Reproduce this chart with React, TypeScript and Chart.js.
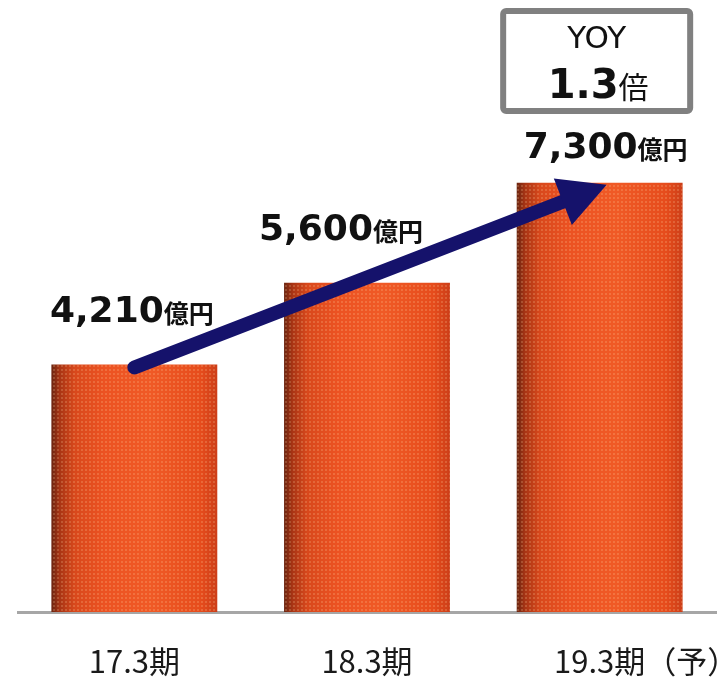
import React, { useEffect, useRef } from "react";
import { Chart, registerables } from "chart.js";

Chart.register(...registerables);

const categories = ["17.3期", "18.3期", "19.3期"];
const categorySuffix = ["", "", "（予）"];
const sales = [4210, 5600, 7300];
const valueLabels = ["4,210", "5,600", "7,300"];
const unitLabel = "億円";
const yoyTitle = "YOY";
const yoyValue = "1.3";
const yoyUnit = "倍";

const BAR_PCT = 0.713;
const NUM_FONT = '"DejaVu Sans", Verdana, sans-serif';
const JP_FONT = '"Noto Sans CJK JP", "Noto Sans", sans-serif';

function barGradient(ctx: CanvasRenderingContext2D, left: number, right: number) {
  const g = ctx.createLinearGradient(left, 0, right, 0);
  g.addColorStop(0, "#6a2410");
  g.addColorStop(0.05, "#a83414");
  g.addColorStop(0.14, "#d8481c");
  g.addColorStop(0.32, "#ec5222");
  g.addColorStop(0.6, "#f05a26");
  g.addColorStop(0.9, "#e64c1c");
  g.addColorStop(1, "#cc3e18");
  return g;
}

let dotPattern: CanvasPattern | null = null;
function getPattern(ctx: CanvasRenderingContext2D) {
  if (dotPattern) return dotPattern;
  const c = document.createElement("canvas");
  c.width = 4;
  c.height = 4;
  const p = c.getContext("2d")!;
  p.fillStyle = "rgba(255,210,160,0.22)";
  p.fillRect(1, 1, 2, 2);
  dotPattern = ctx.createPattern(c, "repeat");
  return dotPattern;
}

const decorPlugin = {
  id: "decor",
  afterDatasetsDraw(chart: any) {
    const ctx: CanvasRenderingContext2D = chart.ctx;
    const meta = chart.getDatasetMeta(0);
    const x = chart.scales.x;
    const y = chart.scales.y;

    // halftone texture on bars
    const pat = getPattern(ctx);
    meta.data.forEach((el: any) => {
      ctx.save();
      ctx.fillStyle = pat as any;
      ctx.fillRect(el.x - el.width / 2, el.y, el.width, el.base - el.y);
      ctx.restore();
    });

    // value labels
    const dx = [-2.5, -26, 6];
    const rise = [42, 43, 25];
    meta.data.forEach((el: any, i: number) => {
      ctx.save();
      ctx.font = `bold 36px ${NUM_FONT}`;
      const wn = ctx.measureText(valueLabels[i]).width;
      ctx.font = `bold 25px ${JP_FONT}`;
      const wu = ctx.measureText(unitLabel).width;
      const start = el.x + dx[i] - (wn + wu) / 2;
      const base = el.y - rise[i];
      ctx.fillStyle = "#111111";
      ctx.textBaseline = "alphabetic";
      ctx.textAlign = "left";
      ctx.font = `bold 36px ${NUM_FONT}`;
      ctx.fillText(valueLabels[i], start, base);
      ctx.font = `bold 25px ${JP_FONT}`;
      ctx.fillText(unitLabel, start + wn, base + 1);
      ctx.restore();
    });

    // arrow
    const sx = x.getPixelForValue(0);
    const sy = y.getPixelForValue(sales[0]) + 3;
    const tx = x.getPixelForValue(2) + 7;
    const ty = y.getPixelForValue(sales[2]) + 2;
    const ang = Math.atan2(ty - sy, tx - sx);
    const ux = Math.cos(ang);
    const uy = Math.sin(ang);
    const headLen = 47;
    const headHalf = 25;
    const bx = tx - ux * headLen;
    const by = ty - uy * headLen;
    ctx.save();
    ctx.strokeStyle = "#15126b";
    ctx.fillStyle = "#15126b";
    ctx.lineWidth = 14;
    ctx.lineCap = "round";
    ctx.beginPath();
    ctx.moveTo(sx, sy);
    ctx.lineTo(bx + ux * 4, by + uy * 4);
    ctx.stroke();
    ctx.beginPath();
    ctx.moveTo(tx, ty);
    ctx.lineTo(bx - uy * headHalf, by + ux * headHalf);
    ctx.lineTo(bx + uy * headHalf, by - ux * headHalf);
    ctx.closePath();
    ctx.fill();
    ctx.restore();

    // YOY box
    const cx = x.getPixelForValue(2) - 3;
    ctx.save();
    ctx.strokeStyle = "#808080";
    ctx.lineWidth = 6;
    ctx.beginPath();
    (ctx as any).roundRect(cx - 93.5, 11, 187, 100, 3);
    ctx.stroke();
    ctx.fillStyle = "#111111";
    ctx.textAlign = "center";
    ctx.textBaseline = "alphabetic";
    ctx.font = `31px ${NUM_FONT}`;
    ctx.fillText(yoyTitle, cx, 48);
    ctx.font = `bold 40px ${NUM_FONT}`;
    const w1 = ctx.measureText(yoyValue).width;
    ctx.font = `30px ${JP_FONT}`;
    const w2 = ctx.measureText(yoyUnit).width;
    const s = cx + 1.5 - (w1 + w2) / 2;
    ctx.textAlign = "left";
    ctx.font = `bold 40px ${NUM_FONT}`;
    ctx.fillText(yoyValue, s, 98);
    ctx.font = `30px ${JP_FONT}`;
    ctx.fillText(yoyUnit, s + w1, 98);
    ctx.restore();
  },
  afterDraw(chart: any) {
    // suffix after tick labels
    const ctx: CanvasRenderingContext2D = chart.ctx;
    const scale = chart.scales.x;
    const items = scale.getLabelItems();
    items.forEach((it: any, i: number) => {
      const suf = categorySuffix[i];
      if (!suf) return;
      ctx.save();
      ctx.font = it.font.string;
      const w = ctx.measureText(String(it.label)).width;
      ctx.translate(it.options.translation[0], it.options.translation[1]);
      ctx.textAlign = "left";
      ctx.textBaseline = it.options.textBaseline;
      ctx.fillStyle = it.options.color;
      ctx.fillText(suf, w / 2, it.textOffset);
      ctx.restore();
    });
  },
};

export default function App() {
  const ref = useRef<HTMLCanvasElement | null>(null);
  useEffect(() => {
    document.body.style.margin = "0";
    const canvas = ref.current!;
    const chart = new Chart(canvas, {
      type: "bar",
      data: {
        labels: categories,
        datasets: [
          {
            data: sales,
            barPercentage: BAR_PCT,
            categoryPercentage: 1,
            borderWidth: 0,
            backgroundColor: (c: any) => {
              const ch = c.chart;
              const xs = ch.scales?.x;
              if (!ch.chartArea || !xs || c.dataIndex === undefined) return "#e8501e";
              const cxp = xs.getPixelForValue(c.dataIndex);
              const w = (ch.chartArea.width / categories.length) * BAR_PCT;
              return barGradient(ch.ctx, cxp - w / 2, cxp + w / 2);
            },
          },
        ],
      },
      options: {
        animation: false,
        responsive: false,
        maintainAspectRatio: false,
        layout: { padding: { left: 18, right: 6, top: 24, bottom: 0 } },
        plugins: { legend: { display: false }, tooltip: { enabled: false } },
        scales: {
          x: {
            grid: { display: false, drawTicks: false },
            border: { display: true, color: "#a6a6a6", width: 3 },
            ticks: {
              color: "#1a1a1a",
              font: { family: JP_FONT, size: 31, weight: "normal" as any },
              padding: 31,
              maxRotation: 0,
            },
            afterFit: (s: any) => {
              s.height = 68;
            },
          },
          y: {
            display: false,
            min: 0,
            max: 10000,
          },
        },
      },
      plugins: [decorPlugin],
    });
    return () => chart.destroy();
  }, []);
  return (
    <div style={{ position: "absolute", left: 0, top: 0, width: 722, height: 680, background: "#fff" }}>
      <canvas ref={ref} width={722} height={680} style={{ width: 722, height: 680 }} />
    </div>
  );
}
